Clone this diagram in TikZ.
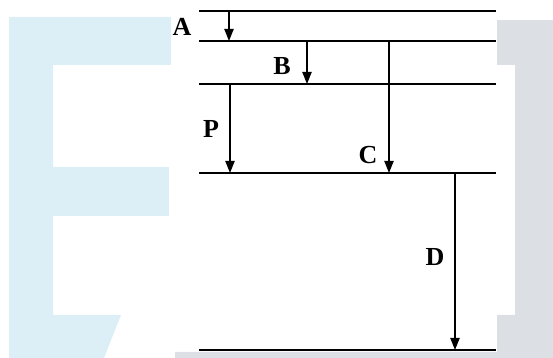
\documentclass[tikz,border=0pt]{standalone}
\usepackage{fontspec}
\setmainfont{Liberation Serif}
\usetikzlibrary{arrows.meta}
\definecolor{wmblue}{HTML}{DCEFF7}
\definecolor{wmgray}{HTML}{DCDFE4}
\begin{document}
\begin{tikzpicture}[x=0.5pt,y=-0.5pt,
  level/.style={line width=1.1pt},
  trans/.style={line width=0.75pt,-{Triangle[width=4.6pt,length=6pt]}},
  lab/.style={font=\fontsize{13}{15}\selectfont\bfseries, inner sep=0pt}]
\useasboundingbox (0,0) rectangle (553,358);
% watermark background
\fill[wmblue] (9,17) -- (171,17) -- (171,65) -- (53,65) -- (53,167) -- (169,167) -- (169,216) -- (53,216) -- (53,315) -- (121,315) -- (104,358) -- (9,358) -- cycle;
\fill[wmgray] (497,20) rectangle (553,65);
\fill[wmgray] (515,65) rectangle (553,315);
\fill[wmgray] (497,315) -- (553,315) -- (553,358) -- (175,358) -- (175,352) -- (497,352) -- cycle;
% level endpoints
\coordinate (L1l) at (199,11);  \coordinate (L1r) at (496,11);
\coordinate (L2l) at (199,41);  \coordinate (L2r) at (496,41);
\coordinate (L3l) at (199,84);  \coordinate (L3r) at (496,84);
\coordinate (L4l) at (199,173); \coordinate (L4r) at (496,173);
\coordinate (L5l) at (199,350); \coordinate (L5r) at (496,350);
\foreach \i in {1,...,5} \draw[level] (L\i l) -- (L\i r);
% transition endpoints
\coordinate (a1) at (229,11);  \coordinate (a2) at (229,41);
\coordinate (b1) at (307,41);  \coordinate (b2) at (307,84);
\coordinate (p1) at (230,84);  \coordinate (p2) at (230,173);
\coordinate (c1) at (389,41);  \coordinate (c2) at (389,173);
\coordinate (d1) at (455,173); \coordinate (d2) at (455,350);
\draw[trans] (a1) -- (a2);
\draw[trans] (b1) -- (b2);
\draw[trans] (p1) -- (p2);
\draw[trans] (c1) -- (c2);
\draw[trans] (d1) -- (d2);
% labels
\node[lab] (A) at (182,27) {A};
\node[lab] (B) at (282,66) {B};
\node[lab] (P) at (211,129) {P};
\node[lab] (C) at (368,155) {C};
\node[lab] (D) at (435,257) {D};
\end{tikzpicture}
\end{document}
